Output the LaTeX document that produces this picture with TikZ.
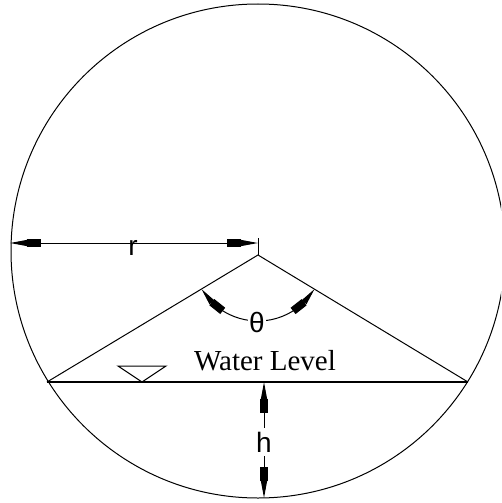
\documentclass[tikz,border=0pt]{standalone}
\usepackage{fontspec}
\setmainfont{Liberation Serif}
\newfontfamily\arialf{Liberation Sans}
\usetikzlibrary{arrows.meta,bending}
\begin{document}
\begin{tikzpicture}[x=1pt,y=-1pt,
  thin line/.style={line width=1pt},
  dimtips/.style={{Triangle[length=17pt,width=6pt,sep=0pt]Rectangle[length=14pt,width=8pt,sep=0pt]}-{Rectangle[length=14pt,width=8pt,sep=0pt]Triangle[length=17pt,width=6pt,sep=0pt]}},
  sanslbl/.style={font=\arialf\fontsize{28}{28}\selectfont, inner sep=1pt},
  serlbl/.style={font=\fontsize{29}{29}\selectfont, inner sep=0pt}]
\clip (0,0) rectangle (501,503);
\coordinate (O) at (258,251);
\coordinate (A) at (258,255);
\coordinate (L) at (47,382);
\coordinate (R) at (468,382);
\coordinate (T) at (258,238);
\coordinate (RL) at (10,243);
\coordinate (RR) at (258,243);
\coordinate (H) at (264,382);
\coordinate (B) at (264,498);
\coordinate (W1) at (118,366);
\coordinate (W2) at (166,366);
\coordinate (W3) at (142,382);
% circle
\draw[thin line] (O) circle [radius=247pt];
% triangle and water level
\draw[thin line] (L) -- (A) -- (R);
\draw[line width=1.4pt] (L) -- (R);
\draw[thin line] (W1) -- (W2) -- (W3) -- cycle;
% radius dimension
\draw[thin line] (A) -- (T);
\draw[thin line,dimtips] (RL) -- (RR);
\node[sanslbl,anchor=base] (rlbl) at (133,255) {r};
% angle
\draw[thin line,dimtips] (A) ++(149:66) arc[start angle=149,end angle=31,radius=66];
\node[sanslbl,fill=white] (th) at (257,322) {θ};
% h dimension
\draw[thin line,dimtips] (H) -- (B);
\node[sanslbl,fill=white,inner ysep=4pt] (hl) at (264,442) {h};
% label
\node[serlbl,anchor=base] (wl) at (265,370) {Water Level};
\end{tikzpicture}
\end{document}
